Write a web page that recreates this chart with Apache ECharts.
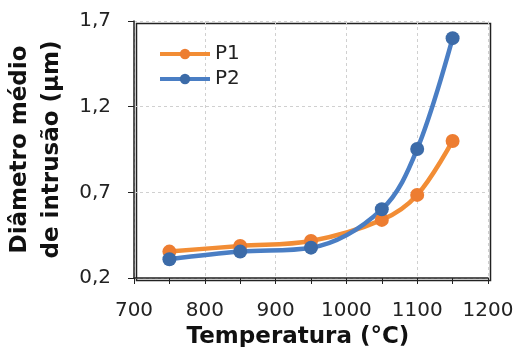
<!DOCTYPE html>
<html>
<head>
<meta charset="utf-8">
<script src="https://cdn.jsdelivr.net/npm/echarts@6/dist/echarts.min.js"></script>
<style>
  html, body { margin: 0; padding: 0; background: #fff; }
  #main { width: 516px; height: 347px; }
</style>
</head>
<body>
<div id="main"></div>
<script>
// temperatures (°C)
var temps = [750, 850, 950, 1050, 1100, 1150];
// mean intrusion diameter (µm)
var p1 = [0.354, 0.387, 0.416, 0.539, 0.685, 1.00];
var p2 = [0.309, 0.354, 0.377, 0.601, 0.953, 1.60];
var yTicks = [0.2, 0.7, 1.2, 1.7];

function pairs(xs, ys) {
    return xs.map(function (x, i) { return [x, ys[i]]; });
}

var myChart = echarts.init(document.getElementById('main'));
var font = 'DejaVu Sans';

var option = {
    animation: false,
    grid: { left: 134, right: 28, top: 21, bottom: 69, outerBoundsMode: 'none', containLabel: false },
    legend: {
        orient: 'vertical',
        left: 153,
        top: 39,
        itemWidth: 50,
        itemHeight: 13,
        itemGap: 5,
        lineStyle: { width: 4 },
        textStyle: { fontFamily: font, fontSize: 20, color: '#222' },
        data: ['P1', 'P2']
    },
    xAxis: {
        type: 'value',
        min: 700, max: 1200, interval: 100,
        name: 'Temperatura (°C)',
        nameLocation: 'middle',
        nameGap: 44,
        nameTextStyle: {
            fontFamily: font, fontSize: 23, fontWeight: 'bold', color: '#111',
            padding: [0, 26, 0, 0]
        },
        axisLine: { lineStyle: { color: '#222', width: 1.5 } },
        axisTick: { show: true, length: 6, lineStyle: { color: '#222' } },
        minorTick: { show: true, splitNumber: 2, length: 6, lineStyle: { color: '#222' } },
        axisLabel: {
            fontFamily: font, fontSize: 20, color: '#222', margin: 23,
            formatter: function (v) { return String(v); }
        },
        splitLine: { show: true, lineStyle: { color: '#d0d0d0', type: [3, 3] } }
    },
    yAxis: {
        type: 'value',
        min: 0.2, max: 1.7, interval: 0.5,
        name: 'Diâmetro médio\nde intrusão (µm)',
        nameLocation: 'middle',
        nameGap: 64,
        nameTextStyle: { fontFamily: font, fontSize: 23, fontWeight: 'bold', color: '#111', lineHeight: 32 },
        axisLine: { show: true, lineStyle: { color: '#222', width: 1.5 } },
        axisTick: { show: true, length: 6, lineStyle: { color: '#222' } },
        axisLabel: {
            fontFamily: font, fontSize: 20, color: '#222', margin: 23,
            formatter: function (v) { return v.toFixed(1).replace('.', ','); }
        },
        splitLine: { show: true, lineStyle: { color: '#d0d0d0', type: [3, 3] } }
    },
    series: [
        {
            name: 'P1',
            type: 'line',
            smooth: 0.35,
            symbol: 'circle',
            symbolSize: 14,
            lineStyle: { color: '#F28D35', width: 4.5 },
            itemStyle: { color: '#ED7D31' },
            data: pairs(temps, p1)
        },
        {
            name: 'P2',
            type: 'line',
            smooth: 0.35,
            symbol: 'circle',
            symbolSize: 14,
            lineStyle: { color: '#4A7EC4', width: 4.5 },
            itemStyle: { color: '#3C6BA8' },
            data: pairs(temps, p2)
        }
    ],
    graphic: [
        // plot frame (top and right edges)
        { type: 'rect', left: 134, top: 21, shape: { width: 354, height: 257 },
          style: { fill: null, stroke: '#222', lineWidth: 1.5 }, silent: true }
    ]
};

myChart.setOption(option);
</script>
</body>
</html>
